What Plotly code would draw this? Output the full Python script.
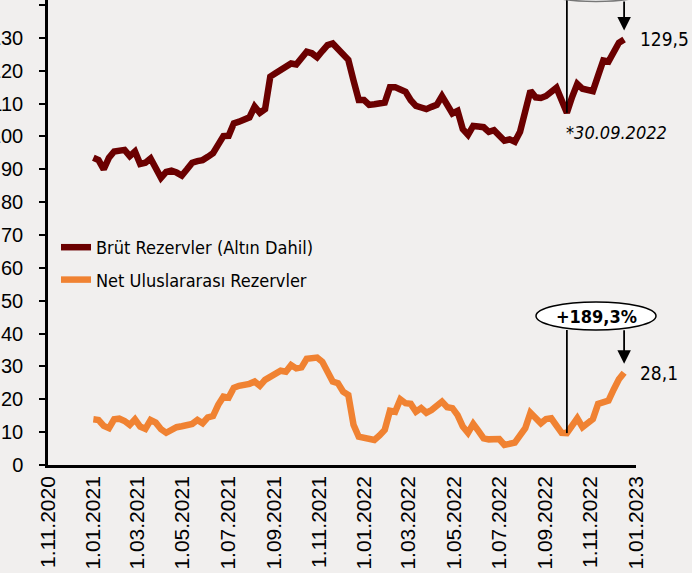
import pandas as pd
import plotly.graph_objects as go

# Weekly (Friday) observations, 1 Jan 2021 - 16 Dec 2022, billion USD
dates = pd.date_range("2021-01-01", periods=103, freq="7D")

brut = [93.5, 92.8, 90.0, 93.5, 95.4, 95.8, 95.9, 94.0, 95.4, 91.6,
        92.0, 93.3, 90.5, 87.4, 89.2, 89.6, 89.0, 88.1, 90.0, 92.0,
        92.5, 92.8, 93.8, 94.9, 97.5, 100.1, 100.2, 104.0, 104.5, 104.9,
        105.8, 109.1, 107.2, 108.3, 118.2, 119.2, 120.2, 120.7, 122.2, 121.9,
        123.8, 125.8, 125.3, 124.1, 126.0, 127.8, 128.3, 126.4, 124.5, 123.3,
        117.0, 111.1, 111.1, 109.6, 109.8, 110.0, 110.3, 115.0, 115.0, 114.3,
        113.6, 111.0, 109.3, 108.8, 108.3, 109.0, 109.6, 112.3, 109.5, 107.0,
        107.8, 102.2, 100.5, 103.2, 103.0, 102.8, 101.4, 101.9, 100.3, 98.7,
        99.1, 98.4, 101.4, 108.0, 113.9, 111.9, 111.7, 112.3, 113.5, 114.8,
        111.0, 107.2, 112.0, 116.0, 114.5, 114.0, 113.8, 118.5, 123.1, 122.8,
        125.5, 128.5, 129.5]

net = [13.9, 13.7, 11.9, 11.2, 13.9, 14.1, 13.4, 12.2, 13.9, 11.7,
       11.0, 13.7, 12.9, 10.9, 9.8, 10.7, 11.5, 11.8, 12.1, 12.5,
       13.7, 12.7, 14.5, 14.9, 18.3, 20.8, 20.5, 23.5, 24.1, 24.3,
       24.7, 25.4, 24.1, 25.9, 26.9, 27.8, 28.7, 28.4, 30.4, 29.4,
       29.7, 32.3, 32.5, 32.7, 31.4, 28.5, 25.4, 24.9, 22.3, 21.3,
       12.2, 8.6, 8.2, 7.9, 7.6, 9.0, 10.7, 16.5, 16.2, 20.0,
       18.8, 18.6, 16.2, 17.3, 15.9, 16.7, 18.0, 19.3, 17.6, 17.3,
       15.2, 11.7, 9.8, 12.5, 10.4, 8.1, 7.8, 7.8, 7.9, 6.1,
       6.4, 6.8, 9.0, 11.2, 15.9, 14.3, 12.7, 14.0, 14.2, 12.0,
       9.8, 9.713, 12.0, 14.2, 11.5, 12.8, 14.0, 18.6, 19.2, 19.6,
       23.0, 26.1, 28.1]

series_names = ["Brüt Rezervler (Altın Dahil)", "Net Uluslararası Rezervler"]
series_colors = ["#6B0000", "#F08232"]

tick_dates = pd.date_range("2020-11-01", "2023-01-01", freq="2MS")
tick_labels = [d.strftime("1.%m.%Y") for d in tick_dates]
y_ticks = list(range(0, 141, 10))

ref_date = pd.Timestamp("2022-09-30")
ref_idx = list(dates).index(ref_date)
pct_net = (net[-1] / net[ref_idx] - 1) * 100

BG = "#F1EFEE"
TXT_FONT = "DejaVu Sans Condensed, DejaVu Sans, sans-serif"
AX_FONT = "Liberation Sans, Arial, sans-serif"

W, H = 692, 573
ML, MR, MT, MB = 48, 56, 0, 108
PW = W - ML - MR
PH = H - MT - MB
YMAX = 141.52


def px_x(px):
    return (px - ML) / PW


def px_y(py):
    return 1 - (py - MT) / PH


def px_val(py):
    return (H - MB - py) / PH * YMAX


fig = go.Figure()
for k, (name, vals, col) in enumerate(zip(series_names, [brut, net], series_colors)):
    fig.add_trace(go.Scatter(x=dates, y=vals, name=name, mode="lines",
                             legendgroup=f"g{k}",
                             line=dict(color=col, width=6.5, shape="linear")))

shapes = [
    dict(type="line", xref="x", yref="y", x0=ref_date, x1=ref_date,
         y0=brut[ref_idx], y1=YMAX + 5, line=dict(color="black", width=1.8)),
    dict(type="line", xref="x", yref="y", x0=ref_date, x1=ref_date,
         y0=net[ref_idx], y1=px_val(330), line=dict(color="black", width=1.8)),
    dict(type="circle", xref="paper", yref="paper",
         x0=px_x(536), x1=px_x(656), y0=px_y(330), y1=px_y(302),
         fillcolor="white", line=dict(color="black", width=1.5)),
    dict(type="circle", xref="paper", yref="paper",
         x0=px_x(536), x1=px_x(656), y0=px_y(1.5), y1=px_y(-26.5),
         fillcolor="white", line=dict(color="#777777", width=1.5)),
]

annotations = [
    dict(x=dates[-1], y=brut[-1], xref="x", yref="y", text="", showarrow=True,
         ax=0, ay=-60, arrowhead=2, arrowsize=1.5, arrowwidth=1.8,
         arrowcolor="black", standoff=9),
    dict(x=dates[-1], y=net[-1], xref="x", yref="y", text="", showarrow=True,
         ax=0, ay=-44, arrowhead=2, arrowsize=1.5, arrowwidth=1.8,
         arrowcolor="black", standoff=9),
    dict(x=px_x(638), y=brut[-1], xref="paper", yref="y",
         text=f"{brut[-1]:.1f}".replace(".", ","), showarrow=False,
         xanchor="left", yanchor="middle",
         font=dict(family=TXT_FONT, size=19, color="black")),
    dict(x=px_x(638), y=net[-1], xref="paper", yref="y",
         text=f"{net[-1]:.1f}".replace(".", ","), showarrow=False,
         xanchor="left", yanchor="middle",
         font=dict(family=TXT_FONT, size=19, color="black")),
    dict(x=px_x(596), y=px_y(316), xref="paper", yref="paper",
         text=f"<b>+{pct_net:.1f}%</b>".replace(".", ","), showarrow=False,
         xanchor="center", yanchor="middle",
         font=dict(family=TXT_FONT, size=18, color="black")),
    dict(x=px_x(564), y=px_y(132), xref="paper", yref="paper",
         text="<i>*30.09.2022</i>", showarrow=False,
         xanchor="left", yanchor="middle",
         font=dict(family=TXT_FONT, size=18, color="black")),
]

fig.update_layout(
    width=W, height=H, autosize=False,
    margin=dict(l=ML, r=MR, t=MT, b=MB, pad=0, autoexpand=False),
    paper_bgcolor=BG, plot_bgcolor=BG,
    showlegend=True,
    legend=dict(x=px_x(56), y=px_y(229), xanchor="left", yanchor="top",
                bgcolor="rgba(0,0,0,0)", traceorder="grouped",
                tracegroupgap=6, itemwidth=30,
                font=dict(family=TXT_FONT, size=18, color="black")),
    xaxis=dict(type="date", range=["2020-11-01", "2023-01-01"],
               tickvals=list(tick_dates), ticktext=tick_labels,
               tickangle=-90, ticks="", showgrid=False, zeroline=False,
               showline=True, linecolor="black", linewidth=2.5,
               automargin=False,
               tickfont=dict(family=AX_FONT, size=21, color="black")),
    yaxis=dict(range=[0, YMAX], tickvals=y_ticks, ticks="outside",
               ticklen=6, tickwidth=2, tickcolor="black",
               showgrid=False, zeroline=False, showline=True,
               linecolor="black", linewidth=2.5, ticklabelstandoff=12,
               automargin=False,
               tickfont=dict(family=AX_FONT, size=20, color="black")),
    shapes=shapes, annotations=annotations,
)

fig.write_html(
    "out.html",
    config={"displayModeBar": False},
    post_script="document.body.style.margin='0';document.body.style.padding='0';"
                "document.body.style.background='" + BG + "';",
)
